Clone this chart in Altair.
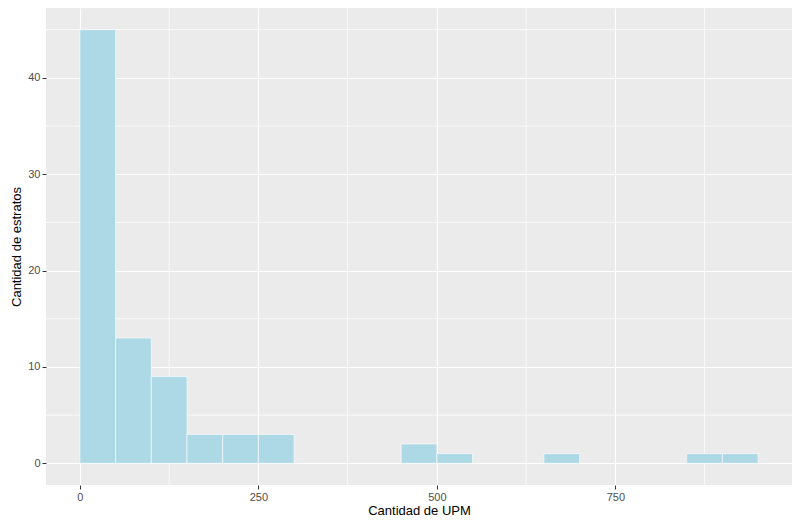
import altair as alt
import pandas as pd

# histogram bins (width 50) and counts
bin_start = [0, 50, 100, 150, 200, 250, 450, 500, 650, 850, 900]
counts = [45, 13, 9, 3, 3, 3, 2, 1, 1, 1, 1]
bin_width = 50

x_major = [0, 250, 500, 750]
x_minor = [125, 375, 625, 875]
y_major = [0, 10, 20, 30, 40]
y_minor = [5, 15, 25, 35, 45]

bars = pd.DataFrame({
    "start": bin_start,
    "end": [b + bin_width for b in bin_start],
    "n": counts,
})

xs = alt.Scale(domain=[-47.5, 997.5], nice=False, zero=False)
ys = alt.Scale(domain=[-2.25, 47.25], nice=False, zero=False)

axis_style = dict(
    grid=True, gridColor="white", gridWidth=1.1, domain=False,
    tickColor="#333333", tickSize=4, labelColor="#4D4D4D", labelFontSize=11,
    labelFont="Liberation Sans", titleFont="Liberation Sans", titleFontSize=13,
    titleFontWeight="normal", titleColor="black",
)

minor_x = alt.Chart(pd.DataFrame({"v": x_minor})).mark_rule(color="white", strokeWidth=0.7).encode(
    x=alt.X("v:Q", scale=xs))
minor_y = alt.Chart(pd.DataFrame({"v": y_minor})).mark_rule(color="white", strokeWidth=0.7).encode(
    y=alt.Y("v:Q", scale=ys))

hist = alt.Chart(bars).mark_rect(fill="#ADD8E6", stroke="white", strokeWidth=0.6).encode(
    x=alt.X("start:Q", scale=xs, title="Cantidad de UPM",
            axis=alt.Axis(values=x_major, titlePadding=2, **axis_style)),
    x2="end:Q",
    y=alt.Y("n:Q", scale=ys, title="Cantidad de estratos",
            axis=alt.Axis(values=y_major, **axis_style)),
    y2=alt.datum(0),
)

chart = alt.layer(minor_x, minor_y, hist).properties(
    width=746, height=477,
    padding={"left": 38, "top": 0, "right": 0, "bottom": 36},
    autosize=alt.AutoSizeParams(type="none"),
).configure_view(fill="#EBEBEB", stroke=None)

chart.save("out.html", embed_options={"renderer": "svg", "actions": False})
